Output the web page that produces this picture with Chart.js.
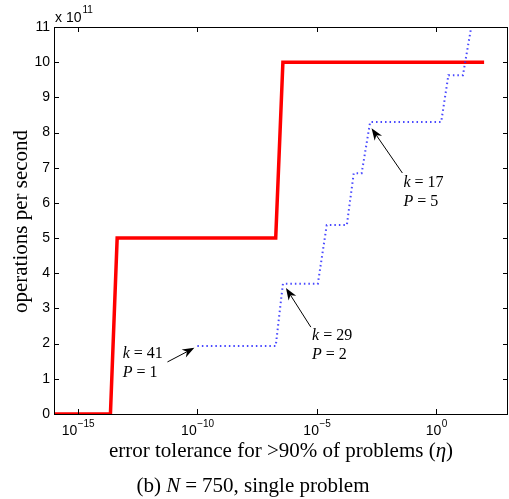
<!DOCTYPE html>
<html>
<head>
<meta charset="utf-8">
<script src="https://cdn.jsdelivr.net/npm/chart.js@4/dist/chart.umd.min.js"></script>
<style>
  html, body { margin: 0; padding: 0; background: #fff; }
  #wrap { width: 509px; height: 499px; }
</style>
</head>
<body>
<div id="wrap"><canvas id="c" width="509" height="499"></canvas></div>
<script>
// data (x = error tolerance, y = ops/s in units of 1e11)
const redX = [1e-16, 2.3e-14, 4.4e-14, 1.9e-7, 3.8e-7, 1e2];
const redY = [0, 0, 5, 5, 10, 10];
const blueX = [1e-10, 1.9e-7, 3.8e-7, 1.1e-5, 2.6e-5, 1.8e-4, 3.5e-4, 7.5e-4, 1.7e-3, 1.6, 3.2, 13, 29];
const blueY = [1.93, 1.93, 3.7, 3.7, 5.37, 5.37, 6.84, 6.84, 8.3, 8.3, 9.63, 9.63, 11];
const xTicks = [1e-15, 1e-10, 1e-5, 1e0];
const xTickExp = ["\u221215", "\u221210", "\u22125", "0"];
const yTicks = [0, 1, 2, 3, 4, 5, 6, 7, 8, 9, 10, 11];

// annotation labels: [k, P], arrow tail / tip and text anchor in data coords
const notes = [
  { k: "41", p: "1", tail: [5.6e-12, 1.48], tip: [7.5e-11, 1.88], text: [7.5e-14, 1.74] },
  { k: "29", p: "2", tail: [5.6e-6, 2.47], tip: [5.1e-7, 3.58], text: [6.3e-6, 2.24] },
  { k: "17", p: "5", tail: [3.8e-2, 6.85], tip: [1.95e-3, 8.12], text: [4.2e-2, 6.6] }
];

const SERIF = "'Liberation Serif', 'Times New Roman', serif";
const SANS = "'Liberation Sans', Arial, sans-serif";

function pts(xs, ys) {
  return xs.map((x, i) => ({ x: x, y: ys[i] }));
}

// parts: [text, italic, extraGapAfter]
function drawRich(ctx, parts, x, y, size, align) {
  let total = 0;
  parts.forEach(p => {
    ctx.font = (p[1] ? "italic " : "") + size + "px " + SERIF;
    total += ctx.measureText(p[0]).width + (p[2] || 0);
  });
  let cx = align === "center" ? x - total / 2 : x;
  ctx.textAlign = "left";
  parts.forEach(p => {
    ctx.font = (p[1] ? "italic " : "") + size + "px " + SERIF;
    ctx.fillText(p[0], cx, y);
    cx += ctx.measureText(p[0]).width + (p[2] || 0);
  });
}

function arrow(ctx, x1, y1, x2, y2) {
  const a = Math.atan2(y2 - y1, x2 - x1);
  const len = 12, w = 4.5;
  ctx.strokeStyle = "#000";
  ctx.lineWidth = 1;
  ctx.beginPath();
  ctx.moveTo(x1, y1);
  ctx.lineTo(x2 - Math.cos(a) * len * 0.7, y2 - Math.sin(a) * len * 0.7);
  ctx.stroke();
  ctx.fillStyle = "#000";
  ctx.beginPath();
  ctx.moveTo(x2, y2);
  ctx.lineTo(x2 - Math.cos(a) * len - Math.sin(a) * w, y2 - Math.sin(a) * len + Math.cos(a) * w);
  ctx.lineTo(x2 - Math.cos(a) * len * 0.7, y2 - Math.sin(a) * len * 0.7);
  ctx.lineTo(x2 - Math.cos(a) * len + Math.sin(a) * w, y2 - Math.sin(a) * len - Math.cos(a) * w);
  ctx.closePath();
  ctx.fill();
}

const decor = {
  id: "decor",
  beforeDraw(chart) {
    const ctx = chart.ctx;
    ctx.save();
    ctx.fillStyle = "#fff";
    ctx.fillRect(0, 0, chart.width, chart.height);
    ctx.restore();
  },
  afterDraw(chart) {
    const ctx = chart.ctx;
    const a = chart.chartArea;
    const xs = chart.scales.x, ys = chart.scales.y;
    ctx.save();

    // box + inward ticks
    ctx.strokeStyle = "#000";
    ctx.lineWidth = 1;
    ctx.strokeRect(Math.round(a.left) + 0.5, Math.round(a.top) + 0.5,
      Math.round(a.right - a.left) - 1, Math.round(a.bottom - a.top));
    ctx.beginPath();
    xTicks.forEach(v => {
      const px = Math.round(xs.getPixelForValue(v)) + 0.5;
      ctx.moveTo(px, a.bottom); ctx.lineTo(px, a.bottom - 5);
      ctx.moveTo(px, a.top); ctx.lineTo(px, a.top + 5);
    });
    yTicks.forEach(v => {
      const py = Math.round(ys.getPixelForValue(v)) + 0.5;
      ctx.moveTo(a.left, py); ctx.lineTo(a.left + 5, py);
      ctx.moveTo(a.right, py); ctx.lineTo(a.right - 5, py);
    });
    ctx.stroke();

    // x tick labels 10^n
    ctx.fillStyle = "#000";
    ctx.textBaseline = "alphabetic";
    xTicks.forEach((v, i) => {
      const px = xs.getPixelForValue(v);
      ctx.font = "14px " + SANS;
      const wb = ctx.measureText("10").width;
      ctx.font = "10px " + SANS;
      const we = ctx.measureText(xTickExp[i]).width;
      const x0 = px - (wb + we) / 2;
      ctx.font = "14px " + SANS;
      ctx.textAlign = "left";
      ctx.fillText("10", x0, a.bottom + 21);
      ctx.font = "10px " + SANS;
      ctx.fillText(xTickExp[i], x0 + wb + 0.5, a.bottom + 13);
    });

    // multiplier
    ctx.font = "14px " + SANS;
    ctx.textAlign = "left";
    ctx.fillText("x 10", a.left + 1, 22);
    const wm = ctx.measureText("x 10").width;
    ctx.font = "10px " + SANS;
    ctx.fillText("11", a.left + 1 + wm + 1, 13);

    // axis titles
    drawRich(ctx, [["error tolerance for >90% of problems (", false], ["\u03b7", true], [")", false]],
      (a.left + a.right) / 2, 457, 21, "center");
    ctx.save();
    ctx.translate(27, (a.top + a.bottom) / 2 + 1);
    ctx.rotate(-Math.PI / 2);
    drawRich(ctx, [["operations per second", false]], 0, 0, 21, "center");
    ctx.restore();

    // caption
    drawRich(ctx, [["(b) ", false], ["N", true, 5], ["=", false, 5], ["750, single problem", false]],
      253, 492, 21, "center");

    // annotations
    notes.forEach(n => {
      const tx = xs.getPixelForValue(n.text[0]);
      const ty = ys.getPixelForValue(n.text[1]);
      drawRich(ctx, [["k", true, 4], ["=", false, 4], [n.k, false]], tx, ty + 5, 16, "left");
      drawRich(ctx, [["P", true, 4], ["=", false, 4], [n.p, false]], tx, ty + 24, 16, "left");
      arrow(ctx, xs.getPixelForValue(n.tail[0]), ys.getPixelForValue(n.tail[1]),
        xs.getPixelForValue(n.tip[0]), ys.getPixelForValue(n.tip[1]));
    });

    ctx.restore();
  }
};

new Chart(document.getElementById("c"), {
  type: "line",
  data: {
    datasets: [
      {
        data: pts(blueX, blueY),
        borderColor: "rgba(40,40,255,0.85)",
        borderWidth: 2,
        borderDash: [1.5, 3],
        pointRadius: 0,
        fill: false,
        tension: 0
      },
      {
        data: pts(redX, redY),
        borderColor: "#ff0000",
        borderWidth: 3.5,
        pointRadius: 0,
        fill: false,
        tension: 0
      }
    ]
  },
  options: {
    responsive: false,
    animation: false,
    events: [],
    layout: { padding: { top: 27, right: 1, left: 0, bottom: 0 } },
    plugins: { legend: { display: false }, tooltip: { enabled: false } },
    scales: {
      x: {
        type: "logarithmic",
        min: 1e-16,
        max: 1e3,
        grid: { display: false },
        border: { display: false },
        ticks: { display: false },
        afterBuildTicks: s => { s.ticks = xTicks.map(v => ({ value: v })); },
        afterFit: s => { s.height = 85; }
      },
      y: {
        min: 0,
        max: 11,
        grid: { display: false, drawTicks: false, tickLength: 0 },
        border: { display: false },
        ticks: {
          stepSize: 1,
          color: "#000",
          padding: 4,
          font: { family: SANS, size: 14 }
        },
        afterBuildTicks: s => { s.ticks = yTicks.map(v => ({ value: v })); },
        afterFit: s => { s.width = 54; }
      }
    }
  },
  plugins: [decor]
});
</script>
</body>
</html>
